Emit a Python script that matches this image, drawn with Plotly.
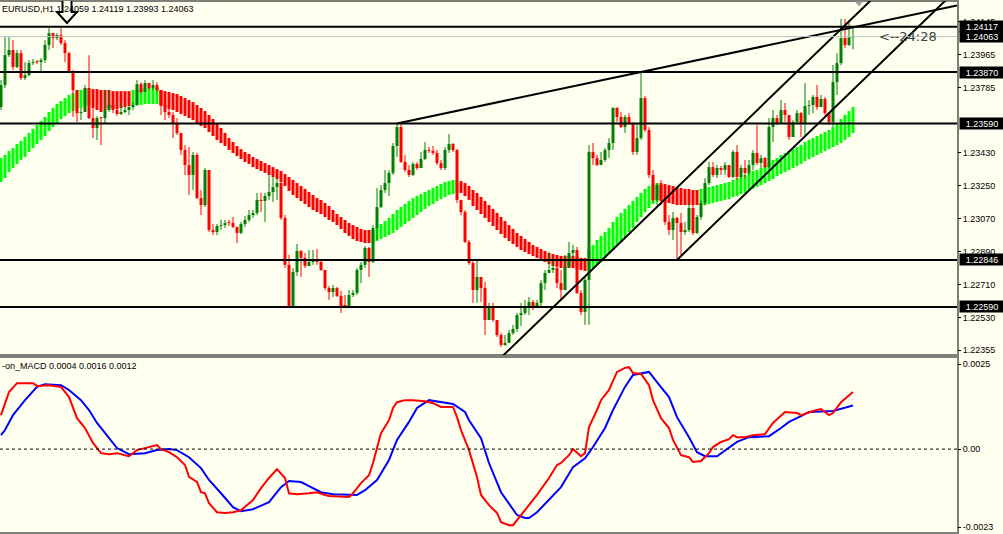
import plotly.graph_objects as go

W, H = 1003, 534
BG = "#FFFFF0"

title_text = "EURUSD,H1 1.24059 1.24119 1.23993 1.24063"
macd_label = "-on_MACD 0.0004 0.0016 0.0012"
timer_text = "<--24:28"

# ---------------- price data (H1 bars, oldest first) ----------------
first_open = 1.23679
close = [
    1.23799, 1.23962, 1.23990, 1.23897, 1.23973, 1.23837, 1.23853, 1.23919, 1.23924, 1.23924,
    1.23935, 1.24017, 1.24082, 1.24055, 1.24071, 1.24028, 1.23973, 1.23870, 1.23772, 1.23646,
    1.23652, 1.23783, 1.23619, 1.23565, 1.23619, 1.23619, 1.23663, 1.23690, 1.23663, 1.23641,
    1.23652, 1.23663, 1.23679, 1.23690, 1.23804, 1.23761, 1.23810, 1.23783, 1.23799, 1.23772,
    1.23690, 1.23652, 1.23636, 1.23592, 1.23538, 1.23445, 1.23363, 1.23309, 1.23418, 1.23183,
    1.23145, 1.23336, 1.23009, 1.22998, 1.23031, 1.23036, 1.23047, 1.23047, 1.23026, 1.22993,
    1.23042, 1.23064, 1.23091, 1.23102, 1.23173, 1.23167, 1.23194, 1.23216, 1.23243, 1.23265,
    1.23075, 1.22819, 1.22590, 1.22780, 1.22895, 1.22857, 1.22813, 1.22835, 1.22846, 1.22835,
    1.22791, 1.22693, 1.22671, 1.22693, 1.22650, 1.22595, 1.22595, 1.22655, 1.22666, 1.22791,
    1.22819, 1.22911, 1.22835, 1.23020, 1.23134, 1.23227, 1.23265, 1.23320, 1.23467, 1.23570,
    1.23380, 1.23336, 1.23309, 1.23369, 1.23347, 1.23396, 1.23445, 1.23440, 1.23429, 1.23374,
    1.23347, 1.23445, 1.23478, 1.23445, 1.23173, 1.23107, 1.22944, 1.22829, 1.22682, 1.22753,
    1.22693, 1.22519, 1.22584, 1.22519, 1.22437, 1.22383, 1.22394, 1.22448, 1.22470, 1.22546,
    1.22557, 1.22584, 1.22617, 1.22590, 1.22612, 1.22720, 1.22775, 1.22791, 1.22802, 1.22720,
    1.22682, 1.22808, 1.22884, 1.22900, 1.22666, 1.22562, 1.22737, 1.23434, 1.23401, 1.23363,
    1.23391, 1.23445, 1.23483, 1.23674, 1.23625, 1.23570, 1.23625, 1.23592, 1.23434, 1.23510,
    1.23728, 1.23554, 1.23309, 1.23173, 1.23254, 1.23173, 1.23053, 1.23009, 1.23075, 1.23047,
    1.22998, 1.23009, 1.23129, 1.22993, 1.23080, 1.23156, 1.23265, 1.23352, 1.23309, 1.23347,
    1.23336, 1.23363, 1.23298, 1.23434, 1.23298, 1.23347, 1.23320, 1.23363, 1.23429, 1.23374,
    1.23401, 1.23352, 1.23570, 1.23619, 1.23592, 1.23663, 1.23636, 1.23516, 1.23597, 1.23646,
    1.23592, 1.23685, 1.23690, 1.23734, 1.23679, 1.23723, 1.23646, 1.23597, 1.23815, 1.23919,
    1.24055, 1.24017, 1.24059, 1.24063,
]
high = [
    1.23826, 1.24060, 1.24060, 1.24044, 1.23990, 1.23990, 1.23924, 1.23935, 1.23941, 1.23935,
    1.23946, 1.24044, 1.24109, 1.24082, 1.24082, 1.24109, 1.24044, 1.23979, 1.23881, 1.23690,
    1.23674, 1.23799, 1.23962, 1.23701, 1.23630, 1.23625, 1.23772, 1.23772, 1.23696, 1.23690,
    1.23701, 1.23679, 1.23690, 1.23706, 1.23826, 1.23815, 1.23826, 1.23810, 1.23826, 1.23815,
    1.23717, 1.23701, 1.23701, 1.23652, 1.23619, 1.23538, 1.23472, 1.23461, 1.23434, 1.23429,
    1.23227, 1.23347, 1.23336, 1.23042, 1.23042, 1.23064, 1.23064, 1.23064, 1.23080, 1.23026,
    1.23053, 1.23085, 1.23118, 1.23118, 1.23211, 1.23211, 1.23211, 1.23309, 1.23298, 1.23292,
    1.23276, 1.23091, 1.22873, 1.22802, 1.22933, 1.22900, 1.22884, 1.22900, 1.22900, 1.22906,
    1.22846, 1.22791, 1.22704, 1.22710, 1.22699, 1.22677, 1.22655, 1.22682, 1.22682, 1.22802,
    1.22835, 1.22922, 1.22917, 1.23036, 1.23238, 1.23254, 1.23336, 1.23336, 1.23483, 1.23587,
    1.23587, 1.23418, 1.23363, 1.23380, 1.23380, 1.23434, 1.23489, 1.23461, 1.23467, 1.23445,
    1.23391, 1.23461, 1.23532, 1.23483, 1.23450, 1.23173, 1.23118, 1.22955, 1.22846, 1.22846,
    1.22753, 1.22726, 1.22612, 1.22612, 1.22519, 1.22448, 1.22437, 1.22465, 1.22492, 1.22557,
    1.22612, 1.22628, 1.22644, 1.22628, 1.22628, 1.22737, 1.22791, 1.22889, 1.22857, 1.22873,
    1.22791, 1.22873, 1.22944, 1.22927, 1.22917, 1.22682, 1.22748, 1.23472, 1.23483, 1.23418,
    1.23434, 1.23456, 1.23510, 1.23679, 1.23679, 1.23652, 1.23636, 1.23646, 1.23597, 1.23592,
    1.23864, 1.23739, 1.23570, 1.23336, 1.23265, 1.23282, 1.23183, 1.23091, 1.23107, 1.23080,
    1.23102, 1.23053, 1.23156, 1.23145, 1.23091, 1.23173, 1.23292, 1.23380, 1.23380, 1.23363,
    1.23358, 1.23380, 1.23363, 1.23445, 1.23472, 1.23363, 1.23391, 1.23391, 1.23445, 1.23581,
    1.23418, 1.23407, 1.23619, 1.23663, 1.23636, 1.23717, 1.23701, 1.23636, 1.23608, 1.23663,
    1.23652, 1.23810, 1.23717, 1.23745, 1.23799, 1.23745, 1.23734, 1.23652, 1.23908, 1.23973,
    1.24159, 1.24159, 1.24153, 1.24119,
]
low = [
    1.23663, 1.23783, 1.23952, 1.23881, 1.23892, 1.23826, 1.23826, 1.23848, 1.23908, 1.23913,
    1.23870, 1.23919, 1.23990, 1.24001, 1.24044, 1.24017, 1.23924, 1.23864, 1.23625, 1.23597,
    1.23608, 1.23652, 1.23614, 1.23510, 1.23499, 1.23472, 1.23592, 1.23652, 1.23646, 1.23630,
    1.23636, 1.23646, 1.23636, 1.23663, 1.23685, 1.23755, 1.23761, 1.23772, 1.23772, 1.23761,
    1.23636, 1.23608, 1.23619, 1.23510, 1.23527, 1.23418, 1.23309, 1.23200, 1.23227, 1.23178,
    1.23091, 1.23134, 1.22998, 1.22982, 1.22982, 1.23009, 1.23020, 1.23031, 1.23020, 1.22938,
    1.22987, 1.23026, 1.23053, 1.23075, 1.23091, 1.23107, 1.23053, 1.23173, 1.23162, 1.23173,
    1.23064, 1.22802, 1.22584, 1.22590, 1.22759, 1.22753, 1.22802, 1.22813, 1.22819, 1.22819,
    1.22786, 1.22682, 1.22628, 1.22644, 1.22644, 1.22557, 1.22584, 1.22590, 1.22644, 1.22655,
    1.22720, 1.22802, 1.22753, 1.22829, 1.22955, 1.23129, 1.23211, 1.23194, 1.23309, 1.23407,
    1.23374, 1.23325, 1.23298, 1.23303, 1.23336, 1.23347, 1.23391, 1.23429, 1.23418, 1.23363,
    1.23336, 1.23336, 1.23429, 1.23434, 1.23156, 1.23091, 1.22938, 1.22819, 1.22612, 1.22612,
    1.22617, 1.22437, 1.22519, 1.22508, 1.22426, 1.22372, 1.22377, 1.22410, 1.22437, 1.22454,
    1.22486, 1.22546, 1.22546, 1.22573, 1.22590, 1.22590, 1.22682, 1.22775, 1.22775, 1.22693,
    1.22628, 1.22682, 1.22802, 1.22857, 1.22661, 1.22546, 1.22492, 1.22492, 1.23363, 1.23358,
    1.23374, 1.23380, 1.23401, 1.23445, 1.23597, 1.23565, 1.23538, 1.23581, 1.23418, 1.23418,
    1.23500, 1.23543, 1.23292, 1.23162, 1.23145, 1.23145, 1.23036, 1.22982, 1.22955, 1.22846,
    1.22873, 1.22982, 1.22998, 1.22982, 1.22987, 1.23064, 1.23145, 1.23254, 1.23298, 1.23292,
    1.23309, 1.23309, 1.23292, 1.23292, 1.23282, 1.23292, 1.23292, 1.23309, 1.23336, 1.23363,
    1.23347, 1.23347, 1.23347, 1.23489, 1.23581, 1.23592, 1.23597, 1.23500, 1.23516, 1.23587,
    1.23516, 1.23516, 1.23636, 1.23646, 1.23663, 1.23706, 1.23636, 1.23581, 1.23570, 1.23745,
    1.23908, 1.24001, 1.24012, 1.23993,
]

# ---------------- smoothed Heiken Ashi indicator ----------------
ha_open = [
    1.23271, 1.23292, 1.23325, 1.23347, 1.23369, 1.23391, 1.23407, 1.23434, 1.23456, 1.23478,
    1.23500, 1.23521, 1.23548, 1.23570, 1.23592, 1.23614, 1.23630, 1.23646, 1.23657, 1.23668,
    1.23674, 1.23685, 1.23690, 1.23777, 1.23777, 1.23772, 1.23772, 1.23772, 1.23766, 1.23766,
    1.23766, 1.23766, 1.23766, 1.23685, 1.23690, 1.23690, 1.23696, 1.23696, 1.23696, 1.23696,
    1.23772, 1.23766, 1.23761, 1.23755, 1.23750, 1.23739, 1.23728, 1.23717, 1.23706, 1.23690,
    1.23674, 1.23657, 1.23636, 1.23614, 1.23587, 1.23565, 1.23538, 1.23510, 1.23489, 1.23467,
    1.23450, 1.23434, 1.23423, 1.23407, 1.23396, 1.23385, 1.23374, 1.23363, 1.23352, 1.23341,
    1.23331, 1.23314, 1.23298, 1.23282, 1.23265, 1.23249, 1.23233, 1.23216, 1.23200, 1.23183,
    1.23173, 1.23156, 1.23140, 1.23118, 1.23096, 1.23080, 1.23064, 1.23047, 1.23036, 1.23026,
    1.23015, 1.23009, 1.23009, 1.22938, 1.22949, 1.22960, 1.22971, 1.22982, 1.22993, 1.23009,
    1.23026, 1.23042, 1.23058, 1.23075, 1.23091, 1.23107, 1.23124, 1.23140, 1.23151, 1.23167,
    1.23178, 1.23189, 1.23200, 1.23205, 1.23211, 1.23276, 1.23265, 1.23249, 1.23227, 1.23211,
    1.23189, 1.23167, 1.23145, 1.23124, 1.23102, 1.23080, 1.23058, 1.23036, 1.23015, 1.22993,
    1.22977, 1.22960, 1.22944, 1.22927, 1.22917, 1.22906, 1.22895, 1.22884, 1.22878, 1.22873,
    1.22868, 1.22868, 1.22868, 1.22868, 1.22862, 1.22857, 1.22857, 1.22791, 1.22802, 1.22819,
    1.22835, 1.22857, 1.22878, 1.22900, 1.22922, 1.22944, 1.22971, 1.22998, 1.23020, 1.23053,
    1.23080, 1.23107, 1.23129, 1.23151, 1.23162, 1.23265, 1.23260, 1.23254, 1.23249, 1.23243,
    1.23238, 1.23233, 1.23233, 1.23227, 1.23227, 1.23145, 1.23145, 1.23151, 1.23156, 1.23162,
    1.23167, 1.23173, 1.23178, 1.23189, 1.23194, 1.23205, 1.23211, 1.23222, 1.23233, 1.23243,
    1.23254, 1.23265, 1.23276, 1.23287, 1.23303, 1.23314, 1.23325, 1.23336, 1.23347, 1.23358,
    1.23369, 1.23385, 1.23396, 1.23407, 1.23418, 1.23429, 1.23440, 1.23450, 1.23461, 1.23472,
    1.23483, 1.23500, 1.23516, 1.23538,
]
ha_close = [
    1.23401, 1.23418, 1.23440, 1.23456, 1.23478, 1.23494, 1.23516, 1.23538, 1.23559, 1.23581,
    1.23603, 1.23625, 1.23652, 1.23674, 1.23696, 1.23712, 1.23728, 1.23745, 1.23755, 1.23766,
    1.23772, 1.23777, 1.23777, 1.23674, 1.23663, 1.23652, 1.23663, 1.23674, 1.23674, 1.23668,
    1.23674, 1.23679, 1.23685, 1.23772, 1.23777, 1.23777, 1.23783, 1.23783, 1.23783, 1.23783,
    1.23685, 1.23679, 1.23668, 1.23663, 1.23652, 1.23641, 1.23630, 1.23619, 1.23608, 1.23592,
    1.23576, 1.23565, 1.23543, 1.23521, 1.23500, 1.23483, 1.23467, 1.23445, 1.23429, 1.23412,
    1.23396, 1.23380, 1.23369, 1.23352, 1.23341, 1.23331, 1.23320, 1.23309, 1.23298, 1.23287,
    1.23271, 1.23249, 1.23222, 1.23200, 1.23183, 1.23167, 1.23151, 1.23134, 1.23118, 1.23107,
    1.23096, 1.23080, 1.23064, 1.23053, 1.23036, 1.23015, 1.22993, 1.22977, 1.22960, 1.22949,
    1.22944, 1.22938, 1.22938, 1.23009, 1.23026, 1.23042, 1.23058, 1.23075, 1.23096, 1.23118,
    1.23134, 1.23151, 1.23167, 1.23183, 1.23194, 1.23205, 1.23216, 1.23227, 1.23238, 1.23249,
    1.23260, 1.23271, 1.23276, 1.23282, 1.23282, 1.23211, 1.23194, 1.23173, 1.23140, 1.23118,
    1.23096, 1.23075, 1.23053, 1.23031, 1.23009, 1.22987, 1.22966, 1.22949, 1.22933, 1.22917,
    1.22900, 1.22889, 1.22878, 1.22868, 1.22857, 1.22846, 1.22835, 1.22824, 1.22813, 1.22808,
    1.22802, 1.22802, 1.22802, 1.22802, 1.22797, 1.22791, 1.22786, 1.22900, 1.22927, 1.22955,
    1.22977, 1.22998, 1.23020, 1.23053, 1.23080, 1.23102, 1.23124, 1.23145, 1.23167, 1.23189,
    1.23211, 1.23233, 1.23249, 1.23260, 1.23265, 1.23167, 1.23162, 1.23156, 1.23151, 1.23145,
    1.23145, 1.23145, 1.23145, 1.23145, 1.23145, 1.23233, 1.23238, 1.23243, 1.23249, 1.23254,
    1.23260, 1.23265, 1.23271, 1.23282, 1.23292, 1.23298, 1.23309, 1.23320, 1.23331, 1.23336,
    1.23347, 1.23358, 1.23374, 1.23391, 1.23401, 1.23418, 1.23429, 1.23440, 1.23450, 1.23461,
    1.23472, 1.23489, 1.23500, 1.23510, 1.23521, 1.23532, 1.23543, 1.23554, 1.23570, 1.23592,
    1.23614, 1.23636, 1.23657, 1.23679,
]

# ---------------- MACD panel (values read at bar positions) ----------------
macd_main_bar = [0, 2, 4, 8, 9, 12, 15, 17, 19, 21, 23, 25, 27, 29, 31, 32, 34, 37, 39, 40,
                 42, 44, 46, 47, 49, 50, 51, 52, 54, 56, 58, 60, 63, 65, 67, 69, 71, 72, 74, 77,
                 79, 81, 82, 87, 88, 90, 92, 93, 94, 95, 97, 98, 99, 101, 103, 106, 108, 110, 113, 114,
                 115, 117, 119, 120, 122, 124, 125, 127, 128, 130, 132, 134, 137, 139, 140, 142, 143, 144, 145, 146,
                 147, 149, 150, 152, 153, 154, 156, 157, 158, 160, 162, 163, 165, 167, 168, 170, 172, 173, 175, 177,
                 178, 180, 182, 183, 184, 186, 188, 191, 193, 196, 199, 200, 203, 205, 206, 207, 208, 210, 213]
macd_main = [0.00100, 0.00168, 0.00194, 0.00194, 0.00186, 0.00188, 0.00183, 0.00153, 0.00091, 0.00062,
             0.00018, -0.00012, -0.00015, -0.00012, -0.00018, -0.00021, -0.00003, 0.00006, 0.00012, 0.0,
             -0.00009, -0.00024, -0.00047, -0.00082, -0.00097, -0.00127, -0.00130, -0.00159, -0.00186, -0.00188,
             -0.00186, -0.00180, -0.00150, -0.00115, -0.00085, -0.00059, -0.00085, -0.00130, -0.00133, -0.00130,
             -0.00127, -0.00135, -0.00138, -0.00141, -0.00130, -0.00100, -0.00077, -0.00041, 0.00003, 0.00047,
             0.00085, 0.00121, 0.00138, 0.00144, 0.00144, 0.00141, 0.00135, 0.00124, 0.00124, 0.00094,
             0.00056, -0.00003, -0.00082, -0.00135, -0.00165, -0.00188, -0.00215, -0.00224, -0.00224, -0.00194,
             -0.00165, -0.00135, -0.00085, -0.00047, -0.00041, -0.00018, 0.0, -0.00012, -0.00021, -0.00012,
             0.00065, 0.00115, 0.00144, 0.00174, 0.00203, 0.00227, 0.00239, 0.00241, 0.00224, 0.00221,
             0.00188, 0.00144, 0.00091, 0.00062, 0.00027, -0.00018, -0.00024, -0.00038, -0.00035, -0.00012,
             0.00006, 0.00021, 0.00029, 0.00041, 0.00035, 0.00035, 0.00041, 0.00044, 0.00077, 0.00109,
             0.00106, 0.00100, 0.00112, 0.00118, 0.00109, 0.00100, 0.00106, 0.00138, 0.00168]
macd_signal_bar = [0, 1, 3, 6, 9, 11, 15, 17, 20, 22, 24, 27, 29, 32, 36, 39, 42, 44, 47, 50,
                   52, 55, 58, 60, 63, 67, 70, 72, 75, 77, 80, 83, 89, 91, 94, 97, 99, 102, 104, 107,
                   110, 113, 116, 117, 120, 122, 125, 127, 129, 131, 132, 134, 137, 140, 143, 146, 148, 151, 153, 156,
                   158, 162, 164, 167, 169, 172, 174, 176, 179, 182, 184, 187, 192, 195, 197, 200, 202, 208, 210, 213]
macd_signal = [0.00041, 0.00056, 0.00100, 0.00144, 0.00183, 0.00191, 0.00188, 0.00174, 0.00144, 0.00115,
               0.00077, 0.00032, 0.00003, -0.00015, -0.00012, -0.00003, 0.0, -0.00003, -0.00024, -0.00056,
               -0.00091, -0.00130, -0.00171, -0.00183, -0.00177, -0.00156, -0.00112, -0.00094, -0.00097, -0.00109,
               -0.00127, -0.00133, -0.00135, -0.00121, -0.00091, -0.00032, 0.00027, 0.00080, 0.00121, 0.00144,
               0.00138, 0.00133, 0.00109, 0.00085, 0.00032, -0.00041, -0.00127, -0.00159, -0.00194, -0.00203,
               -0.00203, -0.00186, -0.00150, -0.00112, -0.00053, -0.00027, 0.00006, 0.00062, 0.00115, 0.00183,
               0.00218, 0.00227, 0.00197, 0.00153, 0.00094, 0.00035, -0.00009, -0.00021, -0.00021, 0.00003,
               0.00021, 0.00035, 0.00038, 0.00062, 0.00080, 0.00097, 0.00109, 0.00112, 0.00118, 0.00128]

# ---------------- chart objects ----------------
level_prices = [1.24117, 1.23870, 1.23590, 1.22846, 1.22590]
bid_price = 1.24063
price_ticks = [1.24145, 1.23965, 1.23785, 1.23430, 1.23250, 1.23070, 1.22890, 1.22710, 1.22530, 1.22355]
macd_ticks = [0.0025, 0.0, -0.0023]
macd_tick_text = ["0.0025", "0.00", "-0.0023"]
# trend lines: two anchor points (bar, price) each, and the bar where drawing starts
trend_anchor_bars = [(127, 217), (169, 214), (99, 160)]
trend_anchor_prices = [(1.22356, 1.24251), (1.22846, 1.23794), (1.23590, 1.23870)]
trend_start_bar = [110, 169, 99]
arrow_bar, arrow_price = 16.5, 1.24137

X_MAX = 239.0
PRICE_RANGE = [1.22328, 1.24257]
MACD_RANGE = [-0.00247, 0.00271]
PLOT_W = 957

n = len(close)
bars = list(range(n))
opens = [first_open] + close[:-1]

fig = go.Figure()

# Heiken Ashi smoothed bars
ha_base = [min(o, c) for o, c in zip(ha_open, ha_close)]
ha_len = [max(abs(c - o), 0.00004) for o, c in zip(ha_open, ha_close)]
ha_col = ["#00FF00" if c >= o else "#FF0000" for o, c in zip(ha_open, ha_close)]
fig.add_trace(go.Bar(x=bars, y=ha_len, base=ha_base, width=0.75,
                     marker=dict(color=ha_col, line=dict(width=0)),
                     xaxis="x", yaxis="y", hoverinfo="skip"))

# candle bodies
bull_c, bear_c = "#008000", "#FF0000"
body_base = [min(o, c) for o, c in zip(opens, close)]
body_len = [max(abs(c - o), 0.00005) for o, c in zip(opens, close)]
body_col = [bull_c if c > o else bear_c for o, c in zip(opens, close)]
fig.add_trace(go.Bar(x=bars, y=body_len, base=body_base, width=0.75,
                     marker=dict(color=body_col, line=dict(width=0)),
                     xaxis="x", yaxis="y", hoverinfo="skip"))

# wicks
for col, up in ((bull_c, True), (bear_c, False)):
    wx, wy = [], []
    for i in bars:
        if (close[i] > opens[i]) == up:
            wx += [i, i, None]
            wy += [min(low[i], opens[i], close[i]), max(high[i], opens[i], close[i]), None]
    fig.add_trace(go.Scatter(x=wx, y=wy, mode="lines", line=dict(color=col, width=1),
                             xaxis="x", yaxis="y", hoverinfo="skip"))

# trend lines
for (b0, b1), (p0, p1), s in zip(trend_anchor_bars, trend_anchor_prices, trend_start_bar):
    slope = (p1 - p0) / (b1 - b0)
    xs = [s, X_MAX]
    ys = [p0 + slope * (x - b0) for x in xs]
    fig.add_trace(go.Scatter(x=xs, y=ys, mode="lines", line=dict(color="black", width=2),
                             xaxis="x", yaxis="y", hoverinfo="skip"))

# MACD lines
fig.add_trace(go.Scatter(x=macd_signal_bar, y=macd_signal, mode="lines",
                         line=dict(color="#0000FF", width=2), xaxis="x2", yaxis="y2", hoverinfo="skip"))
fig.add_trace(go.Scatter(x=macd_main_bar, y=macd_main, mode="lines",
                         line=dict(color="#FF0000", width=2), xaxis="x2", yaxis="y2", hoverinfo="skip"))

shapes = []
# horizontal levels
for p in level_prices:
    shapes.append(dict(type="line", xref="x domain", x0=0, x1=1, yref="y", y0=p, y1=p,
                       line=dict(color="black", width=2)))
shapes.append(dict(type="line", xref="x domain", x0=0, x1=1, yref="y", y0=bid_price, y1=bid_price,
                   line=dict(color="#C0C0C0", width=1)))
# MACD zero line
shapes.append(dict(type="line", xref="x2 domain", x0=0, x1=1, yref="y2", y0=0, y1=0,
                   line=dict(color="black", width=1, dash="3px,3px")))
# frames
xr = PLOT_W / W
for ypx in (1, 355, 357, 533):
    yy = 1 - ypx / H
    shapes.append(dict(type="line", xref="paper", x0=0, x1=xr, yref="paper", y0=yy, y1=yy,
                       line=dict(color="black", width=1)))
shapes.append(dict(type="line", xref="paper", x0=(PLOT_W + 1) / W, x1=(PLOT_W + 1) / W,
                   yref="paper", y0=0, y1=1, line=dict(color="black", width=1)))
# down arrow object
shapes.append(dict(type="path", xref="x", yref="y", xsizemode="pixel", ysizemode="pixel",
                   xanchor=arrow_bar, yanchor=arrow_price,
                   path="M0,0 L-10,11 L-4.5,11 L-4.5,26 L4.5,26 L4.5,11 L10,11 Z",
                   fillcolor=BG, line=dict(color="black", width=2)))
# chart shift marker
shapes.append(dict(type="path", xref="paper", yref="paper", xsizemode="pixel", ysizemode="pixel",
                   xanchor=859 / W, yanchor=1 - 1.5 / H,
                   path="M-4,0 L4,0 L0,-5 Z", fillcolor="#A0A0A0", line=dict(width=0)))

annotations = []
annotations.append(dict(xref="paper", yref="paper", x=0, y=1 - 9 / H, xanchor="left", yanchor="middle",
                        text=title_text, showarrow=False,
                        font=dict(family="Liberation Sans", size=9, color="black")))
annotations.append(dict(xref="paper", yref="paper", x=0, y=1 - 366 / H, xanchor="left", yanchor="middle",
                        text=macd_label, showarrow=False,
                        font=dict(family="Liberation Sans", size=9, color="black")))
annotations.append(dict(xref="paper", yref="y", x=877 / W, y=bid_price, xanchor="left", yanchor="middle",
                        text=timer_text, showarrow=False,
                        font=dict(family="DejaVu Sans", size=13, color="#404040")))
for p in level_prices + [bid_price]:
    annotations.append(dict(xref="paper", yref="y", x=(PLOT_W + 2) / W, y=p, xanchor="left",
                            yanchor="middle", text=f"{p:.5f}", showarrow=False, bgcolor="black",
                            width=44, height=11, borderpad=0, align="center",
                            font=dict(family="Liberation Sans", size=9, color="white")))

tickfont = dict(family="Liberation Sans", size=9, color="black")
fig.update_layout(
    width=W, height=H, margin=dict(l=0, r=0, t=0, b=0),
    paper_bgcolor=BG, plot_bgcolor=BG, showlegend=False, barmode="overlay",
    hovermode=False,
    xaxis=dict(domain=[0, xr], range=[-0.25, X_MAX], visible=False, anchor="y"),
    xaxis2=dict(domain=[0, xr], range=[-0.25, X_MAX], visible=False, anchor="y2", matches="x"),
    yaxis=dict(domain=[1 - 355 / H, 1 - 1 / H], range=PRICE_RANGE, side="right", anchor="x",
               tickvals=price_ticks, ticktext=[f"{v:.5f}" for v in price_ticks],
               ticks="outside", ticklen=3, tickcolor="black", showgrid=False, zeroline=False,
               showline=False, tickfont=tickfont),
    yaxis2=dict(domain=[1 - 533 / H, 1 - 357 / H], range=MACD_RANGE, side="right", anchor="x2",
                tickvals=macd_ticks, ticktext=macd_tick_text,
                ticks="outside", ticklen=3, tickcolor="black", showgrid=False, zeroline=False,
                showline=False, tickfont=tickfont),
    shapes=shapes, annotations=annotations,
)

fig.write_html("out.html", config={"displayModeBar": False, "staticPlot": True},
               post_script="document.body.style.margin='0';")
